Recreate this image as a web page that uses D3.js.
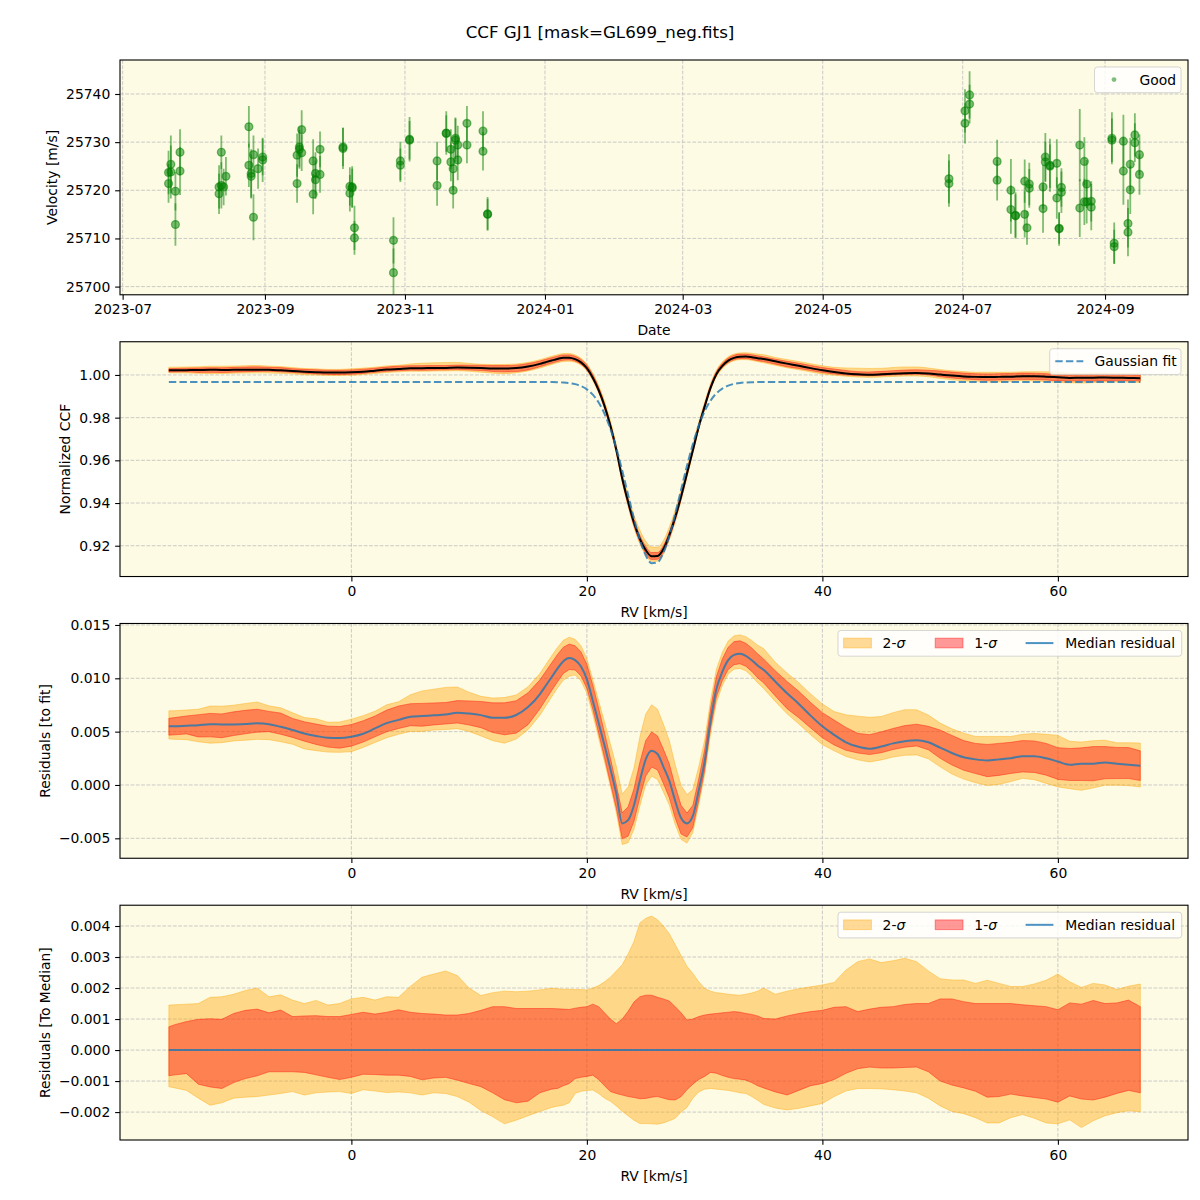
<!DOCTYPE html>
<html><head><meta charset="utf-8">
<script src="https://cdn.jsdelivr.net/npm/d3@7"></script>
<style>
body{margin:0;background:#fff}
svg{display:block}
</style>
</head><body>
<svg id="chart" width="1200" height="1200"></svg>
<script>
// ---------------- DATA ----------------
const obsDates = [
"2023-07-21","2023-07-21","2023-07-22","2023-07-22","2023-07-24","2023-07-24","2023-07-26","2023-07-26",
"2023-08-12","2023-08-12","2023-08-13","2023-08-13","2023-08-14","2023-08-15",
"2023-08-25","2023-08-25","2023-08-26","2023-08-26","2023-08-27","2023-08-27","2023-08-29","2023-08-31","2023-08-31",
"2023-09-15","2023-09-15","2023-09-16","2023-09-16","2023-09-17","2023-09-17","2023-09-22","2023-09-22","2023-09-23","2023-09-23","2023-09-25","2023-09-25",
"2023-10-05","2023-10-05","2023-10-08","2023-10-08","2023-10-09","2023-10-09","2023-10-10","2023-10-10",
"2023-10-27","2023-10-27","2023-10-30","2023-10-30","2023-11-03","2023-11-03",
"2023-11-15","2023-11-15","2023-11-19","2023-11-19","2023-11-21","2023-11-21","2023-11-22","2023-11-22","2023-11-23","2023-11-23","2023-11-24","2023-11-24","2023-11-28","2023-11-28","2023-12-05","2023-12-05","2023-12-07","2023-12-07",
"2024-06-25","2024-06-25","2024-07-02","2024-07-02","2024-07-04","2024-07-04","2024-07-16","2024-07-16","2024-07-22","2024-07-22","2024-07-24","2024-07-24",
"2024-07-28","2024-07-28","2024-07-29","2024-07-30","2024-07-30","2024-08-05","2024-08-05","2024-08-06","2024-08-06","2024-08-08","2024-08-08",
"2024-08-11","2024-08-11","2024-08-12","2024-08-12","2024-08-13","2024-08-13","2024-08-21","2024-08-21","2024-08-23","2024-08-23","2024-08-24","2024-08-24","2024-08-26","2024-08-26",
"2024-09-04","2024-09-04","2024-09-05","2024-09-05","2024-09-09","2024-09-09","2024-09-11","2024-09-11","2024-09-12","2024-09-12","2024-09-14","2024-09-14","2024-09-16","2024-09-16"
];
const obsVel = [
25723.7,25721.4,25725.4,25723.8,25719.8,25712.9,25727.9,25724.0,
25720.7,25719.3,25721.0,25727.9,25720.7,25722.9,
25733.2,25725.2,25723.5,25722.9,25727.4,25714.4,25724.5,25726.3,25726.9,
25727.3,25721.4,25729.0,25728.5,25732.6,25727.8,25726.1,25719.2,25723.5,25722.2,25728.5,25723.3,
25728.7,25729.0,25720.8,25719.4,25720.7,25720.5,25712.2,25710.1,
25709.6,25702.9,25726.1,25725.2,25730.6,25730.4,
25726.1,25721.0,25731.9,25731.8,25728.5,25725.9,25724.5,25720.0,25730.8,25730.4,25729.4,25726.3,25733.9,25729.4,25732.3,25728.1,25715.1,25715.0,
25722.4,25721.4,25736.5,25733.9,25739.8,25737.9,25726.0,25722.1,25720.0,25716.0,25714.8,25714.7,
25721.9,25715.0,25712.2,25721.3,25720.4,25720.7,25716.2,25726.9,25725.9,25725.2,25725.0,
25725.6,25718.4,25712.0,25712.1,25720.6,25719.6,25729.4,25716.3,25726.0,25717.6,25721.3,25717.6,25716.5,25717.7,
25730.8,25730.4,25709.0,25708.3,25730.2,25724.0,25713.1,25711.3,25725.4,25720.1,25731.5,25729.9,25727.4,25723.3
];
const obsErr = [
4.5,4.0,6.0,5.5,4.0,4.4,4.8,5.0,
4.5,4.2,4.8,3.5,3.8,4.0,
4.3,4.5,5.0,4.6,4.0,4.8,4.2,4.6,3.8,
4.5,4.0,4.2,4.0,4.0,3.8,4.5,4.2,4.4,4.0,3.7,3.8,
4.3,4.0,4.0,3.8,4.3,4.0,4.6,3.5,
4.8,5.0,4.0,3.5,4.6,4.0,
4.0,4.2,4.5,3.8,4.2,4.0,4.5,3.8,4.3,4.5,4.0,4.2,3.6,3.8,4.1,4.0,3.5,3.2,
5.1,4.8,4.5,4.2,4.9,4.0,4.5,4.2,6.5,5.0,4.8,4.5,
4.5,4.8,3.5,4.4,4.0,4.6,5.0,5.0,4.2,5.5,4.5,
5.0,4.3,3.5,3.2,4.0,4.3,7.5,6.0,5.0,4.8,5.0,4.5,4.8,4.2,
5.4,4.5,4.3,3.5,5.5,7.0,5.0,5.0,5.5,5.0,4.5,4.0,4.2,4.2
];

const rvGrid = [
-15.5,-15,-14,-13,-12,-11,-10,-9,-8,-7,
-6,-5,-4,-3,-2,-1,0,1,2,3,
4,5,6,7,8,9,10,11,12,13,
14,15,16,16.5,17,17.5,18,18.5,19,19.5,
20,20.5,21,21.5,22,22.5,23,23.5,24,24.5,
25,25.5,26,26.5,27,27.5,28,28.5,29,29.5,
30,30.5,31,31.5,32,32.5,33,33.5,34,34.5,
35,36,37,38,39,40,41,42,43,44,
45,46,47,48,49,50,51,52,53,54,
55,56,57,58,59,60,61,62,63,64,
65,66,67
];
const gaussFit = [
0.9967,0.9967,0.9967,0.9967,0.9967,0.9967,0.9967,0.9967,0.9967,0.9967,
0.9967,0.9967,0.9967,0.9967,0.9967,0.9967,0.9967,0.9967,0.9967,0.9967,
0.9967,0.9967,0.9967,0.9967,0.9967,0.9967,0.9967,0.9967,0.9967,0.9967,
0.9967,0.9967,0.9967,0.99668,0.99665,0.99659,0.99646,0.99619,0.99569,0.99479,
0.99326,0.9908,0.98709,0.98177,0.97466,0.96571,0.95523,0.94388,0.93265,0.9228,
0.91552,0.91184,0.91225,0.91672,0.9246,0.93483,0.94618,0.95742,0.96764,0.97623,
0.98298,0.98795,0.99138,0.99363,0.99501,0.99581,0.99626,0.99649,0.99661,0.99666,
0.99669,0.9967,0.9967,0.9967,0.9967,0.9967,0.9967,0.9967,0.9967,0.9967,
0.9967,0.9967,0.9967,0.9967,0.9967,0.9967,0.9967,0.9967,0.9967,0.9967,
0.9967,0.9967,0.9967,0.9967,0.9967,0.9967,0.9967,0.9967,0.9967,0.9967,
0.9967,0.9967,0.9967
];
const residMedian = [
0.0055,0.0055,0.00555,0.0056,0.0057,0.00567,0.00568,0.00572,0.00578,0.0057,
0.00545,0.00516,0.00483,0.0046,0.00443,0.0044,0.00452,0.0048,0.0053,0.0058,
0.0061,0.0064,0.00647,0.00653,0.0066,0.00678,0.0067,0.00655,0.0063,0.0063,
0.00656,0.0073,0.0085,0.0093,0.0101,0.0109,0.0116,0.0119,0.0117,0.0111,
0.0099,0.0079,0.0058,0.0037,0.0015,-0.0008,-0.0036,-0.0033,-0.0019,0.0004,
0.0024,0.0032,0.0029,0.0017,0.0004,-0.0015,-0.0031,-0.0036,-0.0029,-0.0005,
0.0022,0.006,0.009,0.0106,0.0117,0.0122,0.0123,0.0121,0.0117,0.0112,
0.0108,0.0097,0.0086,0.0076,0.0065,0.0055,0.0047,0.004,0.0036,0.0034,
0.0036,0.0039,0.0041,0.0042,0.004,0.0035,0.003,0.0026,0.0024,0.0023,
0.0024,0.0025,0.0027,0.0027,0.0025,0.0022,0.0019,0.002,0.002,0.0021,
0.002,0.0019,0.0018
];
const sig2Hi = [
0.00145,0.00146,0.00148,0.0015,0.0017,0.00172,0.0018,0.00192,0.002,0.00172,
0.00178,0.00161,0.0015,0.0016,0.00145,0.0015,0.00165,0.0017,0.00161,0.00172,
0.0017,0.00205,0.00235,0.00245,0.00255,0.0024,0.002,0.00176,0.00185,0.0019,
0.00188,0.0019,0.00194,0.00197,0.00199,0.00198,0.00196,0.00196,0.00195,0.00195,
0.00194,0.002,0.00208,0.0022,0.00235,0.00255,0.00275,0.0031,0.0035,0.0041,
0.00425,0.00432,0.0042,0.004,0.00375,0.0034,0.00305,0.0027,0.00247,0.0022,
0.00199,0.0019,0.00185,0.00183,0.0018,0.00178,0.00177,0.0018,0.00184,0.0019,
0.002,0.0018,0.0019,0.00198,0.00204,0.0021,0.00218,0.00258,0.00285,0.00294,
0.00282,0.00288,0.00296,0.00285,0.00255,0.0023,0.00226,0.00226,0.00215,0.00225,
0.00215,0.00205,0.00205,0.00213,0.00225,0.00245,0.0022,0.00202,0.00215,0.0021,
0.00195,0.00206,0.00213
];
const sig1Hi = [
0.00075,0.00082,0.00092,0.00099,0.00101,0.00099,0.00118,0.00128,0.00132,0.0012,
0.00129,0.00108,0.0011,0.00111,0.00108,0.00108,0.00115,0.00122,0.00116,0.00122,
0.0013,0.00122,0.00118,0.00116,0.00113,0.00113,0.00118,0.00128,0.0014,0.0014,
0.00134,0.00134,0.00134,0.00134,0.00134,0.00133,0.00132,0.00131,0.00135,0.00138,
0.0014,0.00148,0.0014,0.0012,0.001,0.00085,0.001,0.00125,0.00155,0.00172,
0.00177,0.00177,0.0017,0.00165,0.00158,0.0014,0.0012,0.00097,0.001,0.00108,
0.00113,0.00116,0.00118,0.0012,0.00122,0.00124,0.00122,0.00118,0.00115,0.0011,
0.00102,0.001,0.0011,0.00118,0.00124,0.00128,0.00138,0.0014,0.00124,0.00132,
0.00138,0.0014,0.00147,0.0015,0.0015,0.00165,0.00165,0.00156,0.0015,0.0015,
0.0015,0.0015,0.00146,0.00143,0.0014,0.0013,0.00152,0.00148,0.0016,0.0015,
0.00152,0.00161,0.0014
];
const sig1Lo = [
-0.00083,-0.0008,-0.00076,-0.0011,-0.00119,-0.00124,-0.00105,-0.00092,-0.00083,-0.0007,
-0.0007,-0.0007,-0.00072,-0.0008,-0.00088,-0.00095,-0.00088,-0.00078,-0.00079,-0.00081,
-0.00081,-0.00085,-0.00096,-0.0009,-0.00088,-0.00097,-0.00108,-0.00118,-0.00138,-0.0016,
-0.0017,-0.00165,-0.00138,-0.00132,-0.00126,-0.00124,-0.00115,-0.00108,-0.00092,-0.00088,
-0.00085,-0.00081,-0.00095,-0.00115,-0.00134,-0.0014,-0.00145,-0.0015,-0.00153,-0.00157,
-0.00156,-0.00152,-0.0015,-0.00155,-0.0016,-0.00161,-0.0015,-0.00128,-0.0011,-0.00095,
-0.00085,-0.00072,-0.00075,-0.00082,-0.00088,-0.00092,-0.00094,-0.00097,-0.00105,-0.00115,
-0.00122,-0.00135,-0.00145,-0.0013,-0.00115,-0.00108,-0.00095,-0.00075,-0.0006,-0.00055,
-0.00058,-0.00058,-0.00056,-0.00055,-0.0007,-0.001,-0.00113,-0.00122,-0.00133,-0.00152,
-0.0015,-0.00142,-0.00148,-0.00153,-0.00158,-0.00168,-0.00148,-0.00158,-0.00161,-0.00152,
-0.0014,-0.0013,-0.00138
];
const sig2Lo = [
-0.00118,-0.00122,-0.0013,-0.00155,-0.00178,-0.0017,-0.00155,-0.00152,-0.0015,-0.00145,
-0.0014,-0.00134,-0.00145,-0.00138,-0.00135,-0.00134,-0.0014,-0.00128,-0.00132,-0.00137,
-0.00135,-0.00138,-0.00145,-0.00138,-0.0014,-0.0015,-0.00168,-0.00195,-0.00215,-0.00238,
-0.00226,-0.00212,-0.00198,-0.00192,-0.00185,-0.00181,-0.00178,-0.0017,-0.0014,-0.00133,
-0.0013,-0.00129,-0.0014,-0.00155,-0.00165,-0.0018,-0.00197,-0.00212,-0.00226,-0.00237,
-0.00237,-0.00238,-0.00239,-0.00235,-0.00228,-0.0022,-0.002,-0.00185,-0.00155,-0.00135,
-0.00126,-0.00124,-0.00126,-0.00128,-0.0013,-0.00134,-0.00138,-0.0014,-0.0015,-0.00162,
-0.00175,-0.00187,-0.00193,-0.00188,-0.0018,-0.00172,-0.0015,-0.00132,-0.00124,-0.00124,
-0.00125,-0.00128,-0.00132,-0.00138,-0.00155,-0.0018,-0.00198,-0.00205,-0.00218,-0.00235,
-0.00235,-0.00218,-0.00208,-0.0022,-0.00235,-0.00238,-0.00225,-0.0025,-0.00228,-0.00212,
-0.00202,-0.00196,-0.00199
];

const velTicks = [25700,25710,25720,25730,25740];
const ccfTicks = [0.92,0.94,0.96,0.98,1.00];
const residTicks = [-0.005,0.000,0.005,0.010,0.015];
const medTicks = [-0.002,-0.001,0.000,0.001,0.002,0.003,0.004];
const rvTicks = [0,20,40,60];
const dateTicks = ["2023-07","2023-09","2023-11","2024-01","2024-03","2024-05","2024-07","2024-09"];

const titleText = "CCF GJ1 [mask=GL699_neg.fits]";

// ---------------- LAYOUT ----------------
const svg = d3.select("#chart");
const FONT = '"DejaVu Sans", sans-serif';
const FS = 13.9;
const L = 120, R = 1188, H = 234.78, GAP = 46.96;
const tops = [0,1,2,3].map(i => 60 + i*(H+GAP));
const BG = "#fdfbe3";
const TICK = 4.86;

svg.append("rect").attr("width",1200).attr("height",1200).attr("fill","#fff");
svg.append("text").attr("x",600).attr("y",38).attr("text-anchor","middle")
  .attr("font-family",FONT).attr("font-size",16.7).text(titleText);

const parseDay = d3.utcParse("%Y-%m-%d");
const parseMonth = d3.utcParse("%Y-%m");
const obs = obsDates.map((d,i)=>({t:parseDay(d), v:obsVel[i], e:obsErr[i]}));
const rows = rvGrid.map((r,i)=>({
  rv:r, g:gaussFit[i], m:residMedian[i],
  h2:sig2Hi[i], h1:sig1Hi[i], l1:sig1Lo[i], l2:sig2Lo[i]
}));

function makePanel(i, x, y, xTickVals, yTickVals, xFmt, yFmt, xlabel, ylabel){
  const top = tops[i], bottom = top+H;
  const g = svg.append("g");
  g.append("rect").attr("x",L).attr("y",top).attr("width",R-L).attr("height",H).attr("fill",BG);
  const grid = g.append("g").attr("stroke","#c4c4c4").attr("stroke-width",0.9).attr("stroke-dasharray","3.7,1.6");
  xTickVals.forEach(v=>grid.append("line").attr("x1",x(v)).attr("x2",x(v)).attr("y1",top).attr("y2",bottom));
  yTickVals.forEach(v=>grid.append("line").attr("x1",L).attr("x2",R).attr("y1",y(v)).attr("y2",y(v)));
  const cid = "clip"+i;
  g.append("clipPath").attr("id",cid).append("rect").attr("x",L).attr("y",top).attr("width",R-L).attr("height",H);
  const plot = g.append("g").attr("clip-path",`url(#${cid})`);
  const front = svg.append("g");
  front.append("rect").attr("x",L).attr("y",top).attr("width",R-L).attr("height",H)
    .attr("fill","none").attr("stroke","#000").attr("stroke-width",1.1);
  const ax = front.append("g").attr("transform",`translate(0,${bottom})`)
    .call(d3.axisBottom(x).tickValues(xTickVals).tickFormat(xFmt).tickSize(TICK).tickPadding(TICK).tickSizeOuter(0));
  const ay = front.append("g").attr("transform",`translate(${L},0)`)
    .call(d3.axisLeft(y).tickValues(yTickVals).tickFormat(yFmt).tickSize(TICK).tickPadding(TICK).tickSizeOuter(0));
  [ax,ay].forEach(a=>{
    a.select(".domain").remove();
    a.attr("font-family",FONT).attr("font-size",FS);
    a.selectAll("text").attr("fill","#000");
    a.selectAll("line").attr("stroke","#000").attr("stroke-width",1.1);
  });
  let maxW = 0;
  ay.selectAll("text").each(function(){ maxW = Math.max(maxW, this.getBBox().width); });
  front.append("text").attr("x",(L+R)/2).attr("y",bottom+40.5).attr("text-anchor","middle")
    .attr("font-family",FONT).attr("font-size",FS).text(xlabel);
  const lx = L - 2*TICK - maxW - 5.6 - 3.3;
  front.append("text").attr("transform",`translate(${lx},${top+H/2}) rotate(-90)`)
    .attr("text-anchor","middle").attr("font-family",FONT).attr("font-size",FS).text(ylabel);
  return {plot, front, top};
}

function legendFrame(g, x, y, w){
  g.append("rect").attr("x",x).attr("y",y).attr("width",w).attr("height",25.7).attr("rx",2.8)
    .attr("fill","#fff").attr("fill-opacity",0.8).attr("stroke","#cccccc").attr("stroke-opacity",0.8).attr("stroke-width",1);
}
function legText(g, x, y, txt){
  return g.append("text").attr("x",x).attr("y",y).attr("font-family",FONT).attr("font-size",FS).text(txt);
}

// ---------------- PANEL 1 ----------------
{
  const ext = d3.extent(obs, d=>d.t);
  const span = ext[1]-ext[0];
  const x = d3.scaleUtc().domain([new Date(+ext[0]-0.05*span), new Date(+ext[1]+0.05*span)]).range([L,R]);
  const y = d3.scaleLinear().domain([25698.3,25747.06]).range([tops[0]+H, tops[0]]);
  const ticks = dateTicks.map(parseMonth);
  const P = makePanel(0, x, y, ticks, velTicks, d3.utcFormat("%Y-%m"), d3.format("d"), "Date", "Velocity [m/s]");
  P.plot.append("g").selectAll("line").data(obs).join("line")
    .attr("x1",d=>x(d.t)).attr("x2",d=>x(d.t)).attr("y1",d=>y(d.v-d.e)).attr("y2",d=>y(d.v+d.e))
    .attr("stroke","green").attr("stroke-opacity",0.5).attr("stroke-width",1.8);
  P.plot.append("g").selectAll("circle").data(obs).join("circle")
    .attr("cx",d=>x(d.t)).attr("cy",d=>y(d.v)).attr("r",3.9)
    .attr("fill","green").attr("fill-opacity",0.5).attr("stroke","green").attr("stroke-opacity",0.5).attr("stroke-width",1.4);
  const lg = P.front.append("g");
  const ly = P.top+7;
  legendFrame(lg, 1094.5, ly, 86.5);
  lg.append("circle").attr("cx",1114).attr("cy",ly+12.6).attr("r",2.4).attr("fill","green").attr("fill-opacity",0.5);
  legText(lg, 1139.5, ly+17.6, "Good");
}

// ---------------- PANEL 2 ----------------
const xRV = d3.scaleLinear().domain([-19.65,71.05]).range([L,R]);
{
  const y = d3.scaleLinear().domain([0.90557,1.01556]).range([tops[1]+H, tops[1]]);
  const P = makePanel(1, xRV, y, rvTicks, ccfTicks, d3.format("d"), d3.format(".2f"), "RV [km/s]", "Normalized CCF");
  const c = d => d.g + d.m;
  const a2 = d3.area().x(d=>xRV(d.rv)).y0(d=>y(c(d)+d.l2)).y1(d=>y(c(d)+d.h2)).curve(d3.curveMonotoneX);
  const a1 = d3.area().x(d=>xRV(d.rv)).y0(d=>y(c(d)+d.l1)).y1(d=>y(c(d)+d.h1)).curve(d3.curveMonotoneX);
  P.plot.append("path").datum(rows).attr("d",a2).attr("fill","orange").attr("fill-opacity",0.4)
    .attr("stroke","orange").attr("stroke-opacity",0.4).attr("stroke-width",1);
  P.plot.append("path").datum(rows).attr("d",a1).attr("fill","red").attr("fill-opacity",0.4)
    .attr("stroke","red").attr("stroke-opacity",0.4).attr("stroke-width",1);
  P.plot.append("path").datum(rows).attr("d",d3.line().x(d=>xRV(d.rv)).y(d=>y(c(d))).curve(d3.curveMonotoneX))
    .attr("fill","none").attr("stroke","#000").attr("stroke-width",2);
  P.plot.append("path").datum(rows).attr("d",d3.line().x(d=>xRV(d.rv)).y(d=>y(d.g)).curve(d3.curveMonotoneX))
    .attr("fill","none").attr("stroke","#1f77b4").attr("stroke-opacity",0.8).attr("stroke-width",2).attr("stroke-dasharray","7.4,3.2");
  const lg = P.front.append("g");
  const ly = P.top+7;
  legendFrame(lg, 1049.7, ly, 131.3);
  lg.append("line").attr("x1",1055.3).attr("x2",1083.3).attr("y1",ly+12.6).attr("y2",ly+12.6)
    .attr("stroke","#1f77b4").attr("stroke-opacity",0.8).attr("stroke-width",2).attr("stroke-dasharray","7.4,3.2");
  legText(lg, 1094.4, ly+17.6, "Gaussian fit");
}

function sigmaLegend(P){
  const lg = P.front.append("g");
  const ly = P.top+7;
  const cy = ly+12.6;
  legendFrame(lg, 838, ly, 343.7);
  lg.append("rect").attr("x",843.6).attr("y",cy-4.9).attr("width",27.8).attr("height",9.7)
    .attr("fill","orange").attr("fill-opacity",0.4).attr("stroke","orange").attr("stroke-opacity",0.4);
  const t1 = legText(lg, 882.6, cy+5, "2-");
  t1.append("tspan").attr("font-style","italic").text("σ");
  lg.append("rect").attr("x",935.2).attr("y",cy-4.9).attr("width",27.8).attr("height",9.7)
    .attr("fill","red").attr("fill-opacity",0.4).attr("stroke","red").attr("stroke-opacity",0.4);
  const t2 = legText(lg, 974.3, cy+5, "1-");
  t2.append("tspan").attr("font-style","italic").text("σ");
  lg.append("line").attr("x1",1025.6).attr("x2",1053.4).attr("y1",cy).attr("y2",cy)
    .attr("stroke","#1f77b4").attr("stroke-opacity",0.8).attr("stroke-width",2);
  legText(lg, 1065.2, cy+5, "Median residual");
}

function bandPanel(i, y, base, yTicks, ylabel){
  const P = makePanel(i, xRV, y, rvTicks, yTicks, d3.format("d"), d3.format(".3f"), "RV [km/s]", ylabel);
  const a2 = d3.area().x(d=>xRV(d.rv)).y0(d=>y(base(d)+d.l2)).y1(d=>y(base(d)+d.h2));
  const a1 = d3.area().x(d=>xRV(d.rv)).y0(d=>y(base(d)+d.l1)).y1(d=>y(base(d)+d.h1));
  P.plot.append("path").datum(rows).attr("d",a2).attr("fill","orange").attr("fill-opacity",0.4)
    .attr("stroke","orange").attr("stroke-opacity",0.4).attr("stroke-width",1);
  P.plot.append("path").datum(rows).attr("d",a1).attr("fill","red").attr("fill-opacity",0.4)
    .attr("stroke","red").attr("stroke-opacity",0.4).attr("stroke-width",1);
  P.plot.append("path").datum(rows).attr("d",d3.line().x(d=>xRV(d.rv)).y(d=>y(base(d))).curve(d3.curveMonotoneX))
    .attr("fill","none").attr("stroke","#1f77b4").attr("stroke-opacity",0.8).attr("stroke-width",2);
  sigmaLegend(P);
}

// ---------------- PANEL 3 ----------------
bandPanel(2, d3.scaleLinear().domain([-0.00687,0.01514]).range([tops[2]+H, tops[2]]),
  d=>d.m, residTicks, "Residuals [to fit]");

// ---------------- PANEL 4 ----------------
bandPanel(3, d3.scaleLinear().domain([-0.0029,0.00467]).range([tops[3]+H, tops[3]]),
  d=>0, medTicks, "Residuals [To Median]");
</script>
</body></html>
